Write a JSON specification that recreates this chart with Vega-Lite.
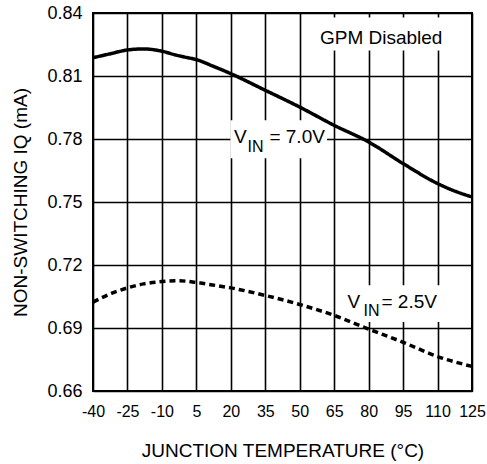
{
  "$schema": "https://vega.github.io/schema/vega-lite/v6.json",
  "width": 379,
  "height": 378,
  "autosize": {"type": "none"},
  "padding": {"left": 93, "top": 13, "right": 15, "bottom": 73},
  "background": "white",
  "config": {
    "view": {"stroke": "black", "strokeWidth": 2},
    "font": "Liberation Sans",
    "axis": {
      "domain": false,
      "ticks": false,
      "grid": true,
      "gridColor": "black",
      "gridWidth": 1.6,
      "gridOpacity": 1,
      "labelOverlap": false,
      "labelFlush": false,
      "labelFont": "Liberation Sans",
      "labelFontSize": 18,
      "labelColor": "black",
      "titleFont": "Liberation Sans",
      "titleFontSize": 19,
      "titleFontWeight": "normal",
      "titleColor": "black"
    }
  },
  "datasets": {
    "curves": [
      {"T": -40, "I": 0.8187, "s": "7.0V"},
      {"T": -32, "I": 0.8207, "s": "7.0V"},
      {"T": -25, "I": 0.8224, "s": "7.0V"},
      {"T": -18, "I": 0.8229, "s": "7.0V"},
      {"T": -10, "I": 0.8218, "s": "7.0V"},
      {"T": -4, "I": 0.8200, "s": "7.0V"},
      {"T": 0, "I": 0.8190, "s": "7.0V"},
      {"T": 5, "I": 0.8178, "s": "7.0V"},
      {"T": 12, "I": 0.8148, "s": "7.0V"},
      {"T": 20, "I": 0.8111, "s": "7.0V"},
      {"T": 35, "I": 0.8032, "s": "7.0V"},
      {"T": 50, "I": 0.7952, "s": "7.0V"},
      {"T": 65, "I": 0.7865, "s": "7.0V"},
      {"T": 80, "I": 0.7786, "s": "7.0V"},
      {"T": 95, "I": 0.7683, "s": "7.0V"},
      {"T": 110, "I": 0.7588, "s": "7.0V"},
      {"T": 118, "I": 0.7550, "s": "7.0V"},
      {"T": 125, "I": 0.7524, "s": "7.0V"},
      {"T": -40, "I": 0.7023, "s": "2.5V"},
      {"T": -32, "I": 0.7065, "s": "2.5V"},
      {"T": -25, "I": 0.7091, "s": "2.5V"},
      {"T": -18, "I": 0.7110, "s": "2.5V"},
      {"T": -10, "I": 0.7121, "s": "2.5V"},
      {"T": -3, "I": 0.7125, "s": "2.5V"},
      {"T": 5, "I": 0.7117, "s": "2.5V"},
      {"T": 12, "I": 0.7105, "s": "2.5V"},
      {"T": 20, "I": 0.7091, "s": "2.5V"},
      {"T": 35, "I": 0.7055, "s": "2.5V"},
      {"T": 50, "I": 0.7012, "s": "2.5V"},
      {"T": 65, "I": 0.6960, "s": "2.5V"},
      {"T": 80, "I": 0.6895, "s": "2.5V"},
      {"T": 95, "I": 0.6832, "s": "2.5V"},
      {"T": 110, "I": 0.6764, "s": "2.5V"},
      {"T": 125, "I": 0.6717, "s": "2.5V"}
    ],
    "boxes": [
      {"T1": 56.6, "T2": 114.1, "I1": 0.8222, "I2": 0.8379},
      {"T1": 19.8, "T2": 61.9, "I1": 0.7708, "I2": 0.7889},
      {"T1": 67.5, "T2": 113.2, "I1": 0.6928, "I2": 0.7104}
    ],
    "bigtext": [
      {"T": 58.8, "I": 0.8254, "txt": "GPM Disabled"},
      {"T": 21.4, "I": 0.7781, "txt": "V"},
      {"T": 36.8, "I": 0.7781, "txt": "= 7.0V"},
      {"T": 70.8, "I": 0.6995, "txt": "V"},
      {"T": 85.6, "I": 0.6995, "txt": "= 2.5V"}
    ],
    "subtext": [
      {"T": 27.3, "I": 0.7738, "txt": "IN"},
      {"T": 77.8, "I": 0.6957, "txt": "IN"}
    ]
  },
  "layer": [
    {
      "data": {"name": "boxes"},
      "mark": {"type": "rect", "color": "white"},
      "encoding": {
        "x": {"field": "T1", "type": "quantitative", "scale": {"domain": [-40, 125], "nice": false, "zero": false},
          "axis": {"values": [-40, -25, -10, 5, 20, 35, 50, 65, 80, 95, 110, 125], "tickCount": 20, "labelExpr": "'' + datum.value", "labelFontSize": 16, "title": "JUNCTION TEMPERATURE (°C)", "labelPadding": 12, "titlePadding": 22}},
        "x2": {"field": "T2"},
        "y": {"field": "I1", "type": "quantitative", "scale": {"domain": [0.66, 0.84], "nice": false, "zero": false},
          "axis": {"values": [0.66, 0.69, 0.72, 0.75, 0.78, 0.81, 0.84], "tickCount": 20, "format": ".2f", "title": "NON-SWITCHING IQ (mA)", "labelPadding": 11, "titlePadding": 16}},
        "y2": {"field": "I2"}
      }
    },
    {
      "data": {"name": "curves"},
      "mark": {"type": "line", "interpolate": "monotone", "strokeWidth": 3.5, "color": "black"},
      "encoding": {
        "x": {"field": "T", "type": "quantitative"},
        "y": {"field": "I", "type": "quantitative"},
        "detail": {"field": "s"},
        "strokeDash": {"field": "s", "type": "nominal", "scale": {"domain": ["7.0V", "2.5V"], "range": [[1, 0], [6, 4]]}, "legend": null}
      }
    },
    {
      "data": {"name": "bigtext"},
      "mark": {"type": "text", "align": "left", "baseline": "alphabetic", "fontSize": 19, "color": "black", "font": "Liberation Sans"},
      "encoding": {
        "x": {"field": "T", "type": "quantitative"},
        "y": {"field": "I", "type": "quantitative"},
        "text": {"field": "txt"}
      }
    },
    {
      "data": {"name": "subtext"},
      "mark": {"type": "text", "align": "left", "baseline": "alphabetic", "fontSize": 16, "color": "black", "font": "Liberation Sans"},
      "encoding": {
        "x": {"field": "T", "type": "quantitative"},
        "y": {"field": "I", "type": "quantitative"},
        "text": {"field": "txt"}
      }
    }
  ]
}
